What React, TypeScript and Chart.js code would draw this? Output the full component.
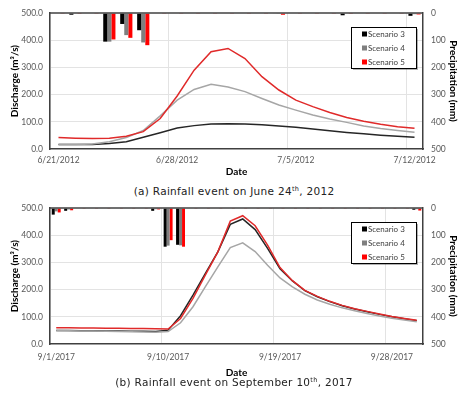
import React, { useEffect, useRef } from 'react';
import { Chart, registerables } from 'chart.js';

Chart.register(...registerables);

// ---- June 2012 event ----
const datesJune2012 = [
  '6/21/2012', '6/22/2012', '6/23/2012', '6/24/2012', '6/25/2012', '6/26/2012', '6/27/2012',
  '6/28/2012', '6/29/2012', '6/30/2012', '7/1/2012', '7/2/2012', '7/3/2012', '7/4/2012',
  '7/5/2012', '7/6/2012', '7/7/2012', '7/8/2012', '7/9/2012', '7/10/2012', '7/11/2012', '7/12/2012',
];
const flowJuneS3 = [17, 17, 17, 20, 27, 43, 60, 77, 86, 92, 93, 92, 89, 85, 80, 74, 67, 61, 56, 51, 47, 43];
const flowJuneS4 = [17, 17, 18, 27, 42, 68, 122, 180, 219, 238, 228, 211, 186, 162, 143, 125, 110, 98, 85, 75, 68, 62];
const flowJuneS5 = [42, 40, 39, 40, 47, 64, 112, 195, 290, 358, 370, 333, 266, 217, 180, 156, 134, 116, 102, 91, 82, 76];
const rainJuneS3 = [0, 6, 0, 105, 40, 63, 0, 0, 0, 0, 0, 0, 0, 2, 0, 0, 0, 8, 0, 0, 0, 10];
const rainJuneS4 = [0, 2, 0, 105, 81, 108, 0, 0, 0, 0, 0, 0, 0, 1, 0, 0, 0, 2, 0, 0, 0, 4];
const rainJuneS5 = [1, 3, 1, 97, 91, 118, 1, 1, 1, 1, 1, 1, 1, 6, 1, 1, 1, 3, 1, 1, 1, 5];

// ---- September 2017 event ----
const datesSep2017 = [
  '9/1/2017', '9/2/2017', '9/3/2017', '9/4/2017', '9/5/2017', '9/6/2017', '9/7/2017', '9/8/2017',
  '9/9/2017', '9/10/2017', '9/11/2017', '9/12/2017', '9/13/2017', '9/14/2017', '9/15/2017',
  '9/16/2017', '9/17/2017', '9/18/2017', '9/19/2017', '9/20/2017', '9/21/2017', '9/22/2017',
  '9/23/2017', '9/24/2017', '9/25/2017', '9/26/2017', '9/27/2017', '9/28/2017', '9/29/2017', '9/30/2017',
];
const flowSepS3 = [50, 50, 49, 49, 48, 48, 47, 47, 46, 51, 104, 180, 260, 339, 440, 460, 421, 352, 277, 232, 196, 174, 156, 141, 129, 119, 109, 100, 93, 86];
const flowSepS4 = [50, 49, 48, 48, 47, 46, 45, 44, 43, 46, 78, 137, 211, 284, 355, 372, 340, 290, 243, 210, 183, 162, 146, 133, 122, 112, 103, 95, 88, 82];
const flowSepS5 = [60, 60, 59, 59, 58, 58, 57, 57, 56, 55, 94, 168, 254, 339, 452, 472, 435, 364, 281, 233, 197, 175, 157, 142, 130, 120, 110, 101, 94, 87];
const rainSepS3 = [24, 10, 0, 0, 0, 0, 0, 0, 10, 142, 135, 0, 0, 0, 0, 0, 0, 0, 0, 0, 0, 0, 0, 0, 0, 0, 0, 0, 0, 6];
const rainSepS4 = [12, 5, 0, 0, 0, 0, 0, 0, 4, 138, 137, 0, 0, 0, 0, 0, 0, 0, 0, 0, 0, 0, 0, 0, 0, 0, 0, 0, 0, 4];
const rainSepS5 = [16, 8, 1, 1, 1, 1, 1, 1, 5, 118, 142, 1, 1, 1, 1, 1, 1, 1, 1, 1, 1, 1, 1, 1, 1, 1, 1, 1, 1, 9];

const scenarioNames = ['Scenario 3', 'Scenario 4', 'Scenario 5'];
const dischargeTicks = [0, 100, 200, 300, 400, 500];

const BAR_COLORS = ['#000000', '#7f7f7f', '#ff0000'];
const LINE_COLORS = ['#262626', '#a6a6a6', '#e02a2a'];
const TICK_FONT = { family: 'Lato', size: 8.5 };
const TITLE_FONT = { family: 'Lato', size: 10, weight: 'bold' as const };
const AXIS_DARK = '#404040';

// Boxed legend in the upper-right corner of the plot area, listing the bar series.
const boxLegend = {
  id: 'boxLegend',
  afterDraw(chart: any) {
    const { ctx, chartArea } = chart;
    const w = 65;
    const h = 41;
    const x = Math.round(chartArea.right - 7 - w);
    const y = Math.round(chartArea.top + 14);
    ctx.save();
    ctx.fillStyle = 'rgba(0,0,0,0.3)';
    ctx.fillRect(x + 2, y + 2, w, h);
    ctx.fillStyle = '#ffffff';
    ctx.fillRect(x, y, w, h);
    ctx.strokeStyle = '#000000';
    ctx.lineWidth = 1;
    ctx.strokeRect(x + 0.5, y + 0.5, w, h);
    const bars = chart.data.datasets.filter((d: any) => d.type === 'bar');
    ctx.font = '8px Lato';
    ctx.textBaseline = 'middle';
    ctx.textAlign = 'left';
    bars.forEach((d: any, i: number) => {
      const cy = y + 7 + i * 14;
      ctx.fillStyle = d.backgroundColor;
      ctx.fillRect(x + 11, cy - 2.5, 5, 5);
      ctx.fillStyle = '#404040';
      ctx.fillText(d.label, x + 17, cy);
    });
    ctx.restore();
  },
};

// Dark frame line along the top of the plot area.
const topFrame = {
  id: 'topFrame',
  afterDraw(chart: any) {
    const { ctx, chartArea } = chart;
    ctx.save();
    ctx.strokeStyle = AXIS_DARK;
    ctx.lineWidth = 1.5;
    ctx.beginPath();
    ctx.moveTo(chartArea.left, chartArea.top);
    ctx.lineTo(chartArea.right, chartArea.top);
    ctx.stroke();
    ctx.restore();
  },
};

type PanelProps = {
  labels: string[];
  flows: number[][];
  rains: number[][];
  labelStep: number;
  height: number;
  tickPad: number;
};

function FlowRainPanel({ labels, flows, rains, labelStep, height, tickPad }: PanelProps) {
  const ref = useRef<HTMLCanvasElement>(null);

  useEffect(() => {
    if (!ref.current) return;
    const lineSets = flows.map((vals, i) => ({
      type: 'line' as const,
      label: scenarioNames[i],
      data: vals,
      yAxisID: 'y',
      borderColor: LINE_COLORS[i],
      backgroundColor: LINE_COLORS[i],
      borderWidth: 1.5,
      pointRadius: 0,
      tension: 0,
      order: 3 - i,
    }));
    const barSets = rains.map((vals, i) => ({
      type: 'bar' as const,
      label: scenarioNames[i],
      data: vals,
      yAxisID: 'y2',
      backgroundColor: BAR_COLORS[i],
      barPercentage: 1,
      categoryPercentage: 0.72,
      order: 0,
    }));

    const chart = new Chart(ref.current, {
      type: 'bar',
      data: { labels, datasets: [...barSets, ...lineSets] as any },
      options: {
        animation: false,
        responsive: false,
        layout: { padding: { top: 13, left: 0, right: 0, bottom: 0 } },
        plugins: { legend: { display: false }, tooltip: { enabled: false } },
        scales: {
          x: {
            type: 'category',
            offset: true,
            grid: {
              offset: true,
              drawTicks: false,
              lineWidth: 1,
              color: (c: any) => (c.index % labelStep === 0 && c.index < labels.length ? '#e3e3e3' : 'rgba(0,0,0,0)'),
            },
            border: { color: AXIS_DARK, width: 1.5 },
            ticks: {
              autoSkip: false,
              maxRotation: 0,
              padding: tickPad,
              color: '#595959',
              font: TICK_FONT,
              callback: (_v: any, i: number) => (i % labelStep === 0 ? labels[i] : ''),
            },
            title: { display: true, text: 'Date', color: '#000', font: TITLE_FONT, padding: { top: 0, bottom: 2 } },
            afterFit: (s: any) => { s.height = height - 149; },
          },
          y: {
            position: 'left',
            min: 0,
            max: 500,
            afterBuildTicks: (s: any) => { s.ticks = dischargeTicks.map((v) => ({ value: v })); },
            grid: {
              drawTicks: false,
              color: (c: any) => (c.tick && (c.tick.value === 0 || c.tick.value === 500) ? 'rgba(0,0,0,0)' : '#e3e3e3'),
            },
            border: { color: AXIS_DARK, width: 1.5 },
            ticks: {
              padding: 7,
              color: '#595959',
              font: TICK_FONT,
              callback: (v: any) => Number(v).toFixed(1),
            },
            title: { display: true, text: 'Discharge (m³/s)', color: '#000', font: TITLE_FONT, padding: { top: 9, bottom: 0 } },
            afterFit: (s: any) => { s.width = 50; },
          },
          y2: {
            position: 'right',
            reverse: true,
            min: 0,
            max: 500,
            afterBuildTicks: (s: any) => { s.ticks = dischargeTicks.map((v) => ({ value: v })); },
            grid: { drawOnChartArea: false, drawTicks: false },
            border: { color: AXIS_DARK, width: 1.5 },
            ticks: { padding: 8, color: '#595959', font: TICK_FONT },
            title: { display: true, text: 'Precipitation (mm)', color: '#000', font: TITLE_FONT, padding: { top: 9, bottom: 0 } },
            afterFit: (s: any) => { s.width = 45; },
          },
        },
      },
      plugins: [topFrame, boxLegend],
    });
    return () => chart.destroy();
  }, [labels, flows, rains, labelStep, height, tickPad]);

  return <canvas ref={ref} width={468} height={height} style={{ display: 'block' }} />;
}

const captionStyle: React.CSSProperties = {
  position: 'absolute',
  left: 0,
  width: 468,
  textAlign: 'center',
  fontFamily: '"DejaVu Sans", sans-serif',
  fontSize: 10.5,
  letterSpacing: 0.3,
  lineHeight: '14px',
  color: '#222',
  whiteSpace: 'nowrap',
};

const supStyle: React.CSSProperties = { fontSize: 6.5, verticalAlign: 'top', lineHeight: '10px' };

export default function App() {
  return (
    <div style={{ position: 'fixed', left: 0, top: 0, width: 468, height: 396, background: '#fff', overflow: 'hidden' }}>
      <div style={{ position: 'absolute', left: 0, top: 0 }}>
        <FlowRainPanel
          labels={datesJune2012}
          flows={[flowJuneS3, flowJuneS4, flowJuneS5]}
          rains={[rainJuneS3, rainJuneS4, rainJuneS5]}
          labelStep={7}
          height={180}
          tickPad={6}
        />
      </div>
      <div style={{ ...captionStyle, top: 184 }}>
        (a) Rainfall event on June 24<sup style={supStyle}>th</sup>, 2012
      </div>
      <div style={{ position: 'absolute', left: 0, top: 195 }}>
        <FlowRainPanel
          labels={datesSep2017}
          flows={[flowSepS3, flowSepS4, flowSepS5]}
          rains={[rainSepS3, rainSepS4, rainSepS5]}
          labelStep={9}
          height={186}
          tickPad={8}
        />
      </div>
      <div style={{ ...captionStyle, top: 375 }}>
        (b) Rainfall event on September 10<sup style={supStyle}>th</sup>, 2017
      </div>
    </div>
  );
}
